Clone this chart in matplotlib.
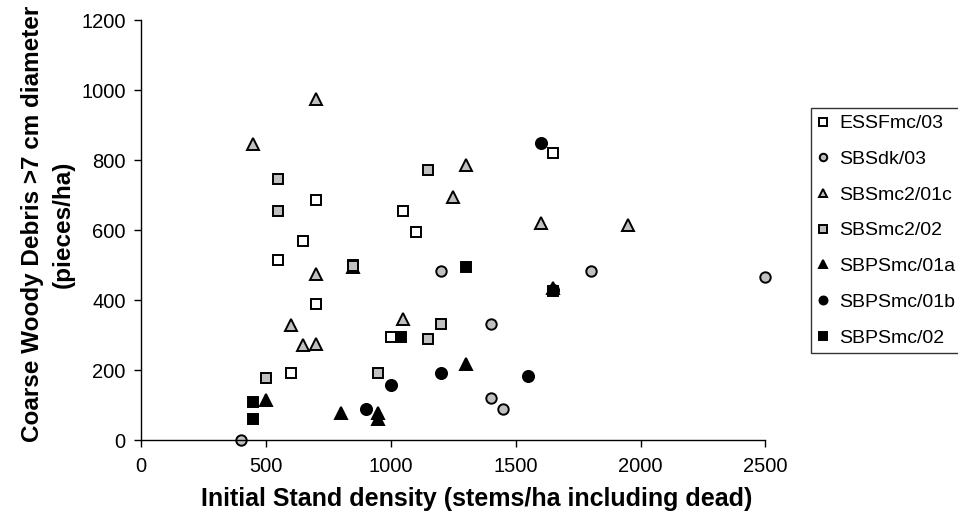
import matplotlib
matplotlib.use("Agg")
import matplotlib.pyplot as plt

plt.rcParams['font.family'] = ['Liberation Sans', 'DejaVu Sans']

# stand density (stems/ha) and CWD counts (pieces/ha) per site series
essf_x = [1650, 700, 1050, 1100, 650, 550, 850, 700, 1000, 600]
essf_y = [820, 685, 655, 595, 570, 515, 500, 388, 295, 193]

sbsdk_x = [400, 1200, 1400, 1400, 1450, 1800, 2500]
sbsdk_y = [0, 484, 333, 121, 88, 484, 466]

sbsmc2c_x = [450, 700, 1300, 1250, 1600, 1950, 850, 700, 1050, 600, 650, 700]
sbsmc2c_y = [845, 976, 786, 695, 619, 614, 495, 474, 346, 329, 271, 274]

sbsmc2_x = [1150, 550, 550, 850, 1200, 1150, 500, 950]
sbsmc2_y = [771, 746, 654, 498, 333, 290, 178, 193]

sbps01a_x = [500, 800, 950, 950, 1300, 1650]
sbps01a_y = [114, 78, 78, 60, 217, 435]

sbps01b_x = [1600, 1200, 1000, 900, 1550, 1650]
sbps01b_y = [848, 193, 157, 88, 183, 428]

sbps02_x = [450, 450, 1040, 1300, 1650]
sbps02_y = [108, 60, 295, 495, 425]

labels = ['ESSFmc/03', 'SBSdk/03', 'SBSmc2/01c', 'SBSmc2/02',
          'SBPSmc/01a', 'SBPSmc/01b', 'SBPSmc/02']
series = [(essf_x, essf_y), (sbsdk_x, sbsdk_y), (sbsmc2c_x, sbsmc2c_y),
          (sbsmc2_x, sbsmc2_y), (sbps01a_x, sbps01a_y),
          (sbps01b_x, sbps01b_y), (sbps02_x, sbps02_y)]
styles = [('s', 'white', 7.5), ('o', '#c0c0c0', 7.5), ('^', '#c0c0c0', 8.5),
          ('s', '#c0c0c0', 7.5), ('^', 'black', 8.5), ('o', 'black', 8.0),
          ('s', 'black', 7.5)]

fig = plt.figure(figsize=(9.58, 5.29), dpi=100)
ax = fig.add_axes([0.147, 0.168, 0.652, 0.794])

handles = []
for (xs, ys), (m, fc, ms), lab in zip(series, styles, labels):
    h, = ax.plot(xs, ys, linestyle='none', marker=m, markersize=ms,
                 markerfacecolor=fc, markeredgecolor='black',
                 markeredgewidth=1.4, label=lab, clip_on=False)
    handles.append(h)

ax.set_xlim(0, 2500)
ax.set_ylim(0, 1200)
ax.set_xticks(range(0, 2501, 500))
ax.set_yticks(range(0, 1201, 200))
ax.tick_params(direction='out', length=5, width=1, labelsize=14.5)
ax.tick_params(axis='x', pad=7)
ax.tick_params(axis='y', pad=6)
for side in ('top', 'right'):
    ax.spines[side].set_visible(False)
for side in ('left', 'bottom'):
    ax.spines[side].set_linewidth(1.0)

ax.set_xlabel('Initial Stand density (stems/ha including dead)',
              fontsize=18, fontweight='bold')
ax.xaxis.set_label_coords(0.537, -0.112)
ax.set_ylabel('Coarse Woody Debris >7 cm diameter\n(pieces/ha)',
              fontsize=17.5, fontweight='bold', linespacing=1.45)
ax.yaxis.set_label_coords(-0.106, 0.515)

leg = fig.legend(handles=handles, loc='upper left',
                 bbox_to_anchor=(811 / 958, 1 - 108 / 529), fontsize=14,
                 frameon=True, fancybox=False, edgecolor='black',
                 markerscale=0.72, handlelength=0.5, handletextpad=0.6,
                 labelspacing=0.93, borderpad=0.35, borderaxespad=0)
leg.get_frame().set_linewidth(1.0)

fig.savefig('out.png', dpi=100)
